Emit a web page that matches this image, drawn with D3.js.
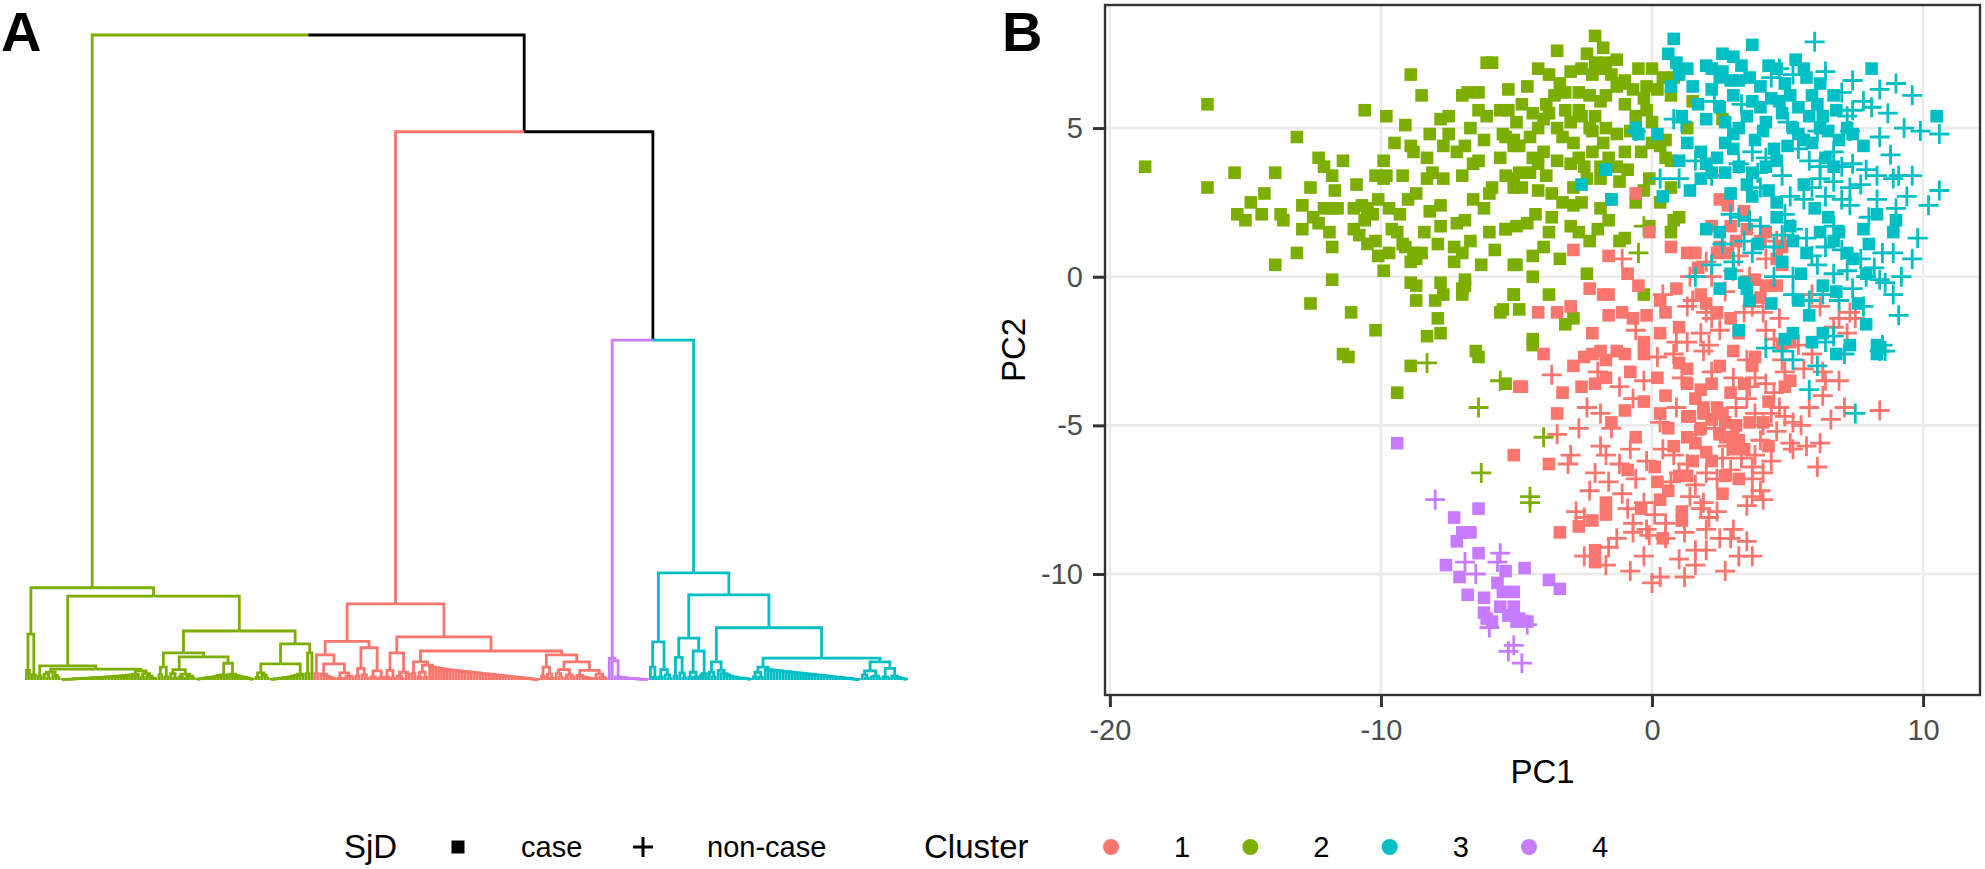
<!DOCTYPE html>
<html>
<head>
<meta charset="utf-8">
<script src="https://cdn.jsdelivr.net/npm/d3@7"></script>
<style>
  body { margin: 0; background: #fff; }
  text { font-family: "Liberation Sans", Arial, sans-serif; }
</style>
</head>
<body>
<script>
// ---- panel A : dendrogram, one bracket string per cluster, leaf order left to right ----
// "(a,b)h" = merge at height h, empty = leaf, "[h1 h2 ..]" = right-nested chain, "<h1 h2 ..>" = left-nested chain
var clusterOrder = [2, 1, 4, 3];
var clusterTrees = [
  "(((,)1.5,(,)0.8)7.1,(((,)0.6,(((,(,)0.3)0.9,(,(,)0.4)0.7)1.2,(<0.05 0.1 0.1 0.15 0.15 0.2 0.2 0.25 0.25 0.3 0.3 0.35 0.35 0.4 0.4 0.45 0.5 0.5 0.55 0.6 0.6 0.65 0.7 0.75 0.8 0.9>,((,)0.4,(,(,(,)0.2)0.3)0.6)1.0)1.4)1.7)2.2," +
  "((((,)0.8,(,)0.5)2.0,(((,(,)0.3)1.0,((,)0.5,((,)0.3,(,)0.2)0.6)0.9)1.6,(<0.1 0.2 0.2 0.3 0.4 0.4 0.5 0.6 0.7 0.8>,[0.9 0.7 0.6 0.5 0.4 0.3 0.2 0.1])2.6)3.6)4.2," +
  "((((,)0.4,(,(,)0.3)0.7)1.1,<0.1 0.1 0.2 0.2 0.3 0.35 0.4 0.5 0.6 0.7 0.9>)2.5,((,)1.0,)4.2)5.6)7.6)13.0)14.3",
  "((((,)1.0,([0.9 0.6 0.4 0.3 0.2],((,)0.3,((,)0.2,(,)0.4)0.6)1.1)2.5)3.9,(((,)0.6,(,(,)0.3)0.8)1.8,((,(,)0.2)0.5,(,)0.4)1.4)5.0)6.0," +
  "((((,)0.5,(,)0.3)1.5,((,(,)0.2)0.6,(,)0.9)1.2)4.2,(((,)1.0,(((,)0.5,(,)0.4)1.2,[2.0 1.9 1.8 1.75 1.7 1.6 1.55 1.5 1.45 1.4 1.35 1.3 1.25 1.2 1.15 1.1 1.05 1.0 0.95 0.9 0.85 0.8 0.75 0.7 0.65 0.6 0.55 0.5 0.45 0.4 0.35 0.3 0.25 0.2 0.15 0.1 0.08])2.3)2.8," +
  "(((,)0.6,(,(,)0.3)0.9)2.0,(((,(,)0.4)1.0,((,)0.3,(,)0.5)0.8)1.6,([0.7 0.5 0.4 0.3 0.2],((,)0.3,(,(,)0.2)0.4)0.9)1.5)2.8)3.9)4.5)6.7)11.8",
  "[3.4 3.0 0.5 0.4 0.35 0.3 0.25 0.2 0.2 0.15 0.1 0.1 0.05]",
  "(((,(,)0.4)2.0,((,)0.5,(,(,)0.2)0.8)1.6)5.9,((((,)0.6,(,(,)0.3)1.1)3.5,(((,)0.4,(,)0.5)1.2,((,)0.7,)1.0)4.5)6.5," +
  "(((,(,)0.5)1.2,[1.5 1.0 0.8 0.6 0.5 0.4 0.3 0.3 0.2 0.2 0.1])2.8,((((,)0.5,(,)0.4)1.2,[1.6 1.55 1.5 1.45 1.4 1.35 1.3 1.25 1.2 1.15 1.1 1.05 1.0 0.95 0.9 0.85 0.8 0.75 0.7 0.65 0.6 0.55 0.5 0.45 0.4 0.35 0.3 0.25 0.2 0.15 0.1 0.05])2.0," +
  "(((,(,)0.3)0.8,((,)0.4,(,)0.2)0.6)1.4,((,(,)0.3)0.5,[0.6 0.4 0.3 0.2 0.1])1.8)2.8)3.4)8.1)13.2)16.6"
];
// heights of the three merges above the clusters: root, cluster1 + (4,3), 4 + 3
var mergeHeights = [100, 85.0, 52.7];

// ---- panel B : PCA scores, [PC1, PC2] per sample ----
var c1case = [[-4.9,-3.7],[-5.1,-6.0],[-4.0,-2.6],[-4.8,-3.7],[-3.5,-4.6],[-3.8,-6.3],[-2.5,-2.7],[-2.2,-2.6],[-1.7,-2.8],[-1.0,-2.6],[-0.3,-2.6],[-2.6,-3.7],[-2.1,-3.6],[-1.7,-3.4],[-1.5,-4.9],[-1.7,-7.6],[-1.7,-8.0],[-2.2,-8.2],[-2.7,-8.4],[-3.4,-8.6],[-2.1,-9.2],[-2.1,-9.6],[-0.3,-4.2],[0.5,-4.0],[1.0,-2.9],[1.3,-3.6],[1.6,-4.1],[0.1,-6.4],[0.2,-6.9],[0.3,-7.5],[0.8,-5.7],[1.3,-5.4],[1.4,-4.7],[1.8,-5.1],[1.9,-4.4],[1.0,-6.7],[1.3,-6.7],[1.1,-7.9],[1.1,-8.2],[0.4,-8.8],[2.4,-4.4],[2.6,-4.6],[2.7,-4.9],[3.1,-5.0],[3.2,-5.5],[3.4,-5.8],[3.0,-5.4],[2.7,-6.7],[3.2,-6.8],[1.8,-3.8],[2.2,-3.6],[2.5,-3.0],[3.4,-3.6],[3.7,-3.0],[3.8,-2.7],[4.8,-2.3],[5.1,-2.2],[4.1,-4.9],[4.3,-5.7],[4.9,-3.7],[5.1,-3.5],[-0.6,2.8],[2.5,2.6],[2.2,1.7],[2.9,1.7],[2.5,1.0],[3.1,1.2],[2.4,0.8],[-2.9,0.9],[-1.6,0.7],[-0.1,1.5],[0.7,1.0],[1.3,0.8],[1.6,0.8],[-1.8,-0.6],[-1.6,-0.6],[-4.2,-1.2],[-3.5,-1.2],[-3.0,-1.0],[-2.2,-1.9],[-1.6,-1.3],[-1.1,-1.2],[-0.7,-1.4],[-0.2,-1.3],[0.3,-0.8],[0.5,-1.2],[1.0,-1.7],[0.3,-1.9],[-0.3,-2.2],[-1.9,-2.5],[-1.3,-2.5],[1.8,-0.6],[2.0,-0.9],[2.4,-1.2],[2.9,-1.4],[3.2,-1.9],[3.0,-2.5],[3.8,-0.1],[4.2,-0.3],[4.6,-0.3],[4.8,0.4],[4.0,-0.7],[4.0,1.2],[4.2,1.5],[4.8,1.0],[4.6,0.6],
  [1.3,-4.7],[1.9,-4.6],[2.2,-4.8],[2.5,-5.3],[3.0,-5.8],[2.7,-5.4],[1.6,-5.6],[2.0,-5.9],[0.6,-5.1],[0.3,-4.6],[-0.6,-5.4],[-1.0,-4.5],[2.2,-6.2],[1.5,-6.2],[-0.9,-6.5],[-0.4,-7.8],[0.6,-7.2],[2.6,-7.3],[1.3,-3.1],[0.2,-3.4],[-0.8,-3.2],[-2.9,-3.0],[-3.3,-3.9],[2.9,-3.9],[4.3,-4.2],[3.6,-4.9],[0.9,-0.4],[1.7,0.3],[2.8,0.8],[3.5,1.6],[3.4,2.2],[2.8,2.4],[-0.9,0.1],[-2.3,-0.4],[-0.5,-0.3]];
var c1non = [[-3.7,-3.3],[-2.4,-4.4],[-2.7,-5.1],[-3.5,-5.3],[-3.0,-6.0],[-3.1,-6.3],[-1.9,-5.7],[-1.7,-6.0],[-1.2,-6.3],[-2.1,-6.6],[-1.6,-6.9],[-1.1,-7.3],[-0.6,-6.8],[-0.3,-7.6],[-2.8,-7.9],[-2.5,-8.1],[-0.7,-8.3],[-0.7,-8.6],[-0.1,-8.7],[-0.2,-8.5],[-1.3,-8.8],[-1.6,-9.1],[-2.5,-9.4],[-1.7,-9.7],[-0.3,-9.4],[0.5,-8.3],[0.5,-8.8],[1.0,-9.5],[0.3,-10.1],[0.0,-10.3],[1.6,-9.2],[1.6,-9.7],[2.0,-9.2],[1.8,-7.8],[2.1,-8.1],[2.4,-7.9],[1.9,-7.6],[1.4,-7.4],[1.6,-7.0],[1.0,-6.6],[0.8,-6.0],[0.4,-5.8],[2.0,-6.6],[2.4,-6.8],[2.9,-6.5],[2.5,-8.8],[2.9,-8.8],[3.5,-8.9],[3.7,-9.4],[3.0,-8.5],[3.5,-7.7],[3.7,-7.4],[4.1,-7.5],[4.0,-7.2],[3.7,-6.8],[4.1,-6.6],[3.7,-6.4],[3.8,-6.0],[4.0,-5.5],[4.1,-5.0],[3.8,-4.6],[3.5,-4.1],[3.6,-3.7],[3.8,-3.4],[4.2,-3.6],[4.5,-3.9],[4.7,-4.4],[4.9,-4.7],[5.2,-4.9],[5.1,-5.6],[5.2,-5.8],[5.7,-5.7],[6.2,-5.6],[6.1,-6.4],[6.3,-3.2],[6.4,-3.5],[6.9,-3.5],[6.3,-4.0],[8.4,-4.5],[4.8,-2.8],[5.4,-2.3],[2.1,-2.3],[3.0,-3.4],[3.5,-2.8],[0.2,-2.7],[0.8,-2.6],[-1.2,-3.7],[-0.3,-3.5],[-0.7,-4.1],[-1.1,0.6],[1.4,0.0],[2.0,0.5],[2.2,0.0],[3.2,0.7],[3.6,0.0],[3.0,0.2],[4.2,0.6],[4.6,1.2],[4.9,1.2],[0.4,-0.6],[1.3,-1.0],[1.5,-0.8],[2.0,-1.2],[2.2,-1.4],[2.5,-1.8],[1.8,-1.9],[1.3,-2.2],[1.9,-2.5],[3.7,-1.0],[4.1,-1.2],[4.2,-1.8],[4.5,-2.1],[4.7,-1.4],[5.9,-0.6],[6.2,-1.0],[6.7,-1.7],[6.9,-1.4],[7.3,-1.2],[7.2,-1.9],[7.5,-1.4],
  [0.9,-4.4],[1.6,-5.3],[2.3,-5.1],[2.8,-5.7],[3.3,-6.1],[2.6,-6.1],[1.3,-6.3],[0.7,-6.9],[-0.2,-6.2],[-0.8,-5.8],[-1.5,-5.1],[-2.3,-7.2],[-0.9,-7.8],[0.1,-8.0],[1.2,-8.6],[2.0,-8.5],[3.2,-9.4],[2.7,-9.9],[1.2,-10.1],[-0.8,-9.9],[4.4,-6.2],[4.6,-5.2],[5.5,-5.0],[5.8,-4.4],[4.4,-4.6],[3.1,-4.4],[2.2,-3.2],[1.1,-3.4],[0.3,-4.9],[-1.9,-4.6],[5.6,-3.1],[5.9,-2.6],[4.9,-3.2],[6.6,-4.8],[7.1,-4.4],[3.4,-1.2],[2.7,-0.5],[0.9,-2.2],[-0.6,-1.8],[-2.0,-3.2]];
var c2case = [[-18.7,3.7],[-16.4,5.8],[-16.4,3.0],[-15.4,3.5],[-15.3,2.1],[-15.0,1.9],[-14.4,2.1],[-14.3,2.8],[-13.9,3.5],[-13.9,0.4],[-13.7,2.1],[-13.6,1.9],[-13.1,4.7],[-13.1,0.8],[-12.9,2.4],[-12.9,1.6],[-12.6,-0.9],[-12.3,4.0],[-12.1,3.7],[-11.8,3.4],[-11.7,2.9],[-12.5,2.0],[-12.3,1.8],[-12.1,2.3],[-11.8,2.3],[-11.6,2.3],[-11.9,1.5],[-11.8,1.0],[-11.8,-0.1],[-11.1,-1.2],[-10.6,5.6],[-11.0,2.3],[-10.7,2.4],[-10.5,2.3],[-10.6,1.9],[-10.3,2.1],[-10.1,2.6],[-11.0,1.6],[-10.8,1.4],[-10.5,1.1],[-10.2,1.2],[-10.1,0.7],[-9.9,0.2],[-10.2,-1.8],[-9.8,5.4],[-8.9,6.8],[-8.5,6.1],[-9.1,5.1],[-9.9,3.9],[-9.8,3.4],[-9.9,3.3],[-10.2,3.4],[-9.7,2.3],[-9.3,2.1],[-9.6,1.6],[-9.4,1.5],[-9.2,1.1],[-9.1,1.0],[-8.8,0.8],[-8.5,0.8],[-9.2,3.4],[-8.9,4.4],[-8.8,4.2],[-8.3,3.3],[-8.3,4.0],[-8.1,3.5],[-8.7,2.8],[-8.9,0.5],[-8.7,0.6],[-8.9,-0.2],[-8.7,-0.3],[-8.7,-0.8],[-8.3,-2.0],[-7.8,-1.9],[-7.9,-1.4],[-7.8,-0.2],[-7.7,-0.6],[-8.0,-0.8],[-8.2,2.2],[-7.8,2.4],[-7.8,1.7],[-7.9,1.1],[-7.7,3.3],[-7.7,4.4],[-7.8,5.3],[-7.5,5.4],[-7.3,1.0],[-7.0,0.8],[-7.3,0.5],[-7.0,-0.4],[-6.9,-0.1],[-6.7,1.2],[-6.9,1.9],[-7.2,1.8],[-7.2,4.2],[-6.9,4.4],[-7.0,6.1],[-6.8,6.2],[-6.4,6.2],[-6.4,5.6],[-6.1,5.4],[-7.0,3.4],[-6.6,3.8],[-6.4,3.9],[-6.2,2.3],[-6.0,2.8],[-5.9,3.0],[-6.1,7.2],[-5.9,7.2],[-5.3,6.3],[-5.3,5.6],[-5.6,5.6],[-5.4,4.7],[-5.1,4.4],[-5.6,4.0],[-6.3,0.4],[-6.9,-0.3],[-7.0,-0.6],[-5.6,-1.2],[-5.1,-0.6],[-5.1,0.4],[-5.4,1.6],[-5.1,3.3],[-11.4,-2.6],[-11.2,-2.7],[-6.5,-2.5],[-6.4,-2.7],[-8.9,-3.0],[-9.4,-3.9],[-5.4,-3.6],[-4.4,-2.3],[-2.1,8.1],[-3.5,7.6],[-1.8,7.7],[-2.4,7.5],[-2.1,7.2],[-1.7,7.2],[-1.3,7.3],[-2.2,6.8],[-1.8,7.0],[-4.2,7.0],[-3.8,6.8],[-3.4,6.5],[-3.2,6.2],[-2.7,6.2],[-2.3,6.1],[-1.9,5.9],[-1.7,6.1],[-1.3,6.4],[-1.1,6.5],[-0.7,6.3],[-0.5,7.0],[0.0,7.0],[0.4,6.7],[-0.2,6.4],[-1.0,6.6],[0.8,6.7],[0.7,6.1],[1.5,5.9],[-4.8,5.8],[-4.4,5.5],[-3.9,5.8],[-3.8,5.5],[-3.2,5.6],[-2.7,5.6],[-2.6,5.4],[-2.1,5.4],[-1.7,5.0],[-2.2,4.9],[-1.8,4.5],[-5.5,4.8],[-5.1,4.6],[-4.9,4.4],[-4.5,4.7],[-4.2,5.0],[-3.5,5.0],[-3.3,4.7],[-2.9,4.5],[-4.4,4.0],[-4.0,4.2],[-3.5,3.9],[-2.7,4.0],[-2.2,4.2],[-1.6,4.0],[-1.3,3.7],[-1.9,3.7],[-1.3,4.8],[-0.8,4.9],[-0.6,5.4],[-0.2,5.6],[0.0,5.2],[0.0,4.5],[0.3,4.4],[0.5,4.6],[0.5,4.0],[0.7,3.9],[1.3,5.0],[2.6,5.3],[-5.4,3.4],[-4.9,3.5],[-4.5,3.5],[-5.1,3.0],[-4.8,3.0],[-4.2,2.9],[-3.7,2.8],[-2.9,3.0],[-2.4,3.3],[-1.9,3.3],[-1.2,3.2],[-1.5,2.6],[-0.6,2.5],[-0.1,3.3],[0.3,2.5],[0.7,3.0],[-2.9,2.4],[-2.6,2.5],[-1.9,2.3],[-4.3,2.1],[-3.7,2.0],[-5.4,1.6],[-5.0,1.7],[-4.6,1.8],[-3.0,1.7],[-2.7,1.5],[-2.3,1.2],[-1.2,1.2],[-1.0,1.3],[-0.1,1.7],[0.7,1.5],[0.8,1.9],[1.0,2.0],[-4.4,0.7],[-5.0,0.4],[-3.4,0.6],[-4.4,0.0],[-5.1,-0.6],[-3.8,-0.6],[-4.9,-1.1],[-4.4,-2.1],[-5.5,-1.1],[-2.4,0.1],[-2.9,-1.4],[-3.2,-1.6],[-0.3,-0.6],
  [-3.0,6.9],[-2.6,7.0],[-1.5,6.8],[-0.3,6.0],[0.2,6.3],[-3.6,6.1],[-4.6,6.4],[-5.0,5.2],[-4.0,5.3],[-3.0,5.2],[-2.3,5.0],[-1.0,5.8],[-0.4,4.2],[-1.0,4.2],[-2.5,3.7],[-3.0,3.8],[-3.9,3.4],[-4.2,3.8],[-0.9,3.6],[-0.3,2.9],[-3.3,2.5],[-3.8,1.5],[-4.0,1.0],[-2.0,1.6],[-1.6,1.9],[-6.2,4.6],[-6.7,5.0],[-7.5,4.8],[-8.2,4.8],[-9.5,4.5],[-10.9,3.1],[-11.4,3.9],[-12.6,3.0],[-14.8,2.5],[-9.0,2.6],[-6.6,2.6],[-6.0,1.5],[-5.8,0.9],[-8.4,1.5],[-9.7,0.8]];
var c2non = [[-8.3,-2.9],[-5.6,-3.5],[-6.4,-4.4],[-6.3,-6.6],[-4.0,-5.4],[-4.5,-7.4],[-4.5,-7.6],[-0.3,1.7],[-0.5,0.8]];
var c3case = [[0.8,8.0],[0.6,7.5],[3.7,7.8],[2.6,7.5],[3.0,7.4],[0.9,7.2],[1.3,7.0],[1.0,6.8],[2.0,7.1],[2.2,7.0],[2.5,6.7],[2.9,6.6],[3.2,6.6],[3.6,6.7],[4.3,7.1],[4.6,7.0],[5.6,7.0],[5.7,6.7],[8.1,7.0],[0.7,6.4],[2.2,6.3],[3.0,6.1],[3.7,5.9],[4.0,5.7],[4.7,5.9],[5.1,6.1],[5.4,5.7],[6.1,5.8],[6.7,6.1],[6.8,5.6],[10.5,5.4],[1.1,5.4],[2.0,5.3],[2.7,5.2],[3.0,4.8],[3.2,5.0],[4.2,5.2],[4.8,5.5],[5.2,5.0],[5.4,4.8],[5.8,5.4],[6.2,5.0],[6.5,4.9],[7.2,5.0],[7.4,4.8],[-0.6,5.0],[-0.5,4.8],[0.2,4.8],[1.8,4.2],[2.0,3.8],[2.4,4.0],[2.7,4.5],[3.0,4.3],[2.2,3.5],[1.8,3.3],[2.7,3.5],[3.2,3.7],[3.7,3.5],[4.5,4.3],[4.6,3.9],[4.2,3.7],[5.9,4.5],[6.4,4.0],[6.7,3.7],[-1.7,3.6],[-2.6,3.1],[-1.5,2.6],[0.4,2.7],[2.0,1.6],[2.5,1.5],[3.7,2.7],[4.6,2.5],[4.6,2.0],[5.1,1.7],[5.2,1.2],[5.7,0.8],[6.2,1.5],[6.7,1.2],[6.9,1.5],[7.2,0.8],[7.4,0.6],[7.9,0.1],[8.3,2.1],[9.0,1.9],[8.9,1.5],[2.9,0.1],[3.4,-0.2],[5.4,-0.8],[5.8,-1.3],[5.9,-2.2],[6.3,-1.9],[8.3,-2.3],[3.2,-1.8],[3.5,-0.4],[3.6,-0.8],[8.3,-2.6],[5.2,-1.9],[4.9,-2.1],
  [1.5,6.4],[2.6,6.9],[3.3,7.1],[4.0,6.4],[4.9,6.5],[5.3,7.3],[6.2,6.5],[1.7,5.8],[2.5,5.7],[3.5,5.4],[4.4,6.0],[5.9,6.1],[6.3,5.4],[3.8,4.6],[4.1,4.9],[5.0,4.4],[5.6,4.6],[6.9,4.6],[7.8,4.4],[1.3,4.5],[1.0,3.9],[1.4,2.9],[2.9,2.8],[3.5,3.1],[4.3,2.9],[5.6,3.1],[6.0,2.3],[6.5,2.0],[7.8,1.6],[8.0,1.1],[3.9,1.1],[4.8,0.5],[5.5,0.1],[6.3,-0.3],[6.8,-0.5],[7.6,-0.9],[7.9,-1.6],[4.4,-0.9],[2.5,-0.4],[6.8,-2.6],[7.3,-2.3]];
var c3non = [[6.0,7.9],[7.4,6.6],[8.4,6.3],[9.0,6.5],[9.6,6.1],[7.8,5.9],[8.1,5.7],[7.4,5.6],[4.7,7.0],[5.2,6.8],[9.9,4.9],[10.6,4.8],[0.8,5.3],[1.1,5.2],[-0.6,4.9],[7.2,5.4],[7.3,4.9],[8.8,4.1],[8.9,3.3],[9.1,3.4],[9.6,3.4],[10.6,2.9],[10.2,2.4],[0.3,3.3],[1.0,3.3],[1.6,3.9],[3.2,3.8],[3.7,4.2],[4.2,4.0],[5.4,4.3],[5.8,3.9],[6.2,3.7],[6.7,4.2],[7.0,3.7],[7.4,3.8],[7.9,3.6],[6.2,3.3],[6.7,3.2],[7.3,3.0],[7.0,2.6],[8.3,2.6],[7.3,2.4],[4.0,3.0],[5.1,2.7],[5.6,2.6],[2.9,2.1],[3.2,2.0],[3.6,1.9],[4.0,1.7],[4.9,2.1],[5.2,1.6],[4.5,1.0],[3.7,0.8],[3.0,0.5],[2.2,0.4],[1.6,0.0],[4.5,0.0],[5.2,0.0],[6.1,0.4],[6.7,0.1],[7.2,0.2],[7.7,0.6],[7.9,0.0],[8.5,0.8],[8.9,0.8],[8.4,-0.1],[8.6,-0.2],[9.2,0.0],[5.2,-0.6],[5.8,-0.8],[6.9,-0.8],[7.4,-0.4],[9.1,-1.3],[8.5,-2.3],[6.7,-2.0],[2.2,3.4],[4.2,-2.4],[5.2,-2.8],[5.8,-3.8],[7.5,-4.6],[8.4,-2.5],[8.6,-2.5],[6.4,-2.2],
  [2.3,5.9],[3.3,5.8],[4.4,6.7],[6.4,6.9],[7.0,6.2],[8.7,5.5],[9.3,5.0],[8.4,4.7],[6.1,4.9],[5.0,5.2],[3.9,3.5],[4.8,3.4],[5.9,3.0],[6.4,2.7],[7.7,3.1],[8.3,3.4],[9.4,2.7],[9.0,2.3],[8.0,2.0],[6.7,1.7],[5.7,1.3],[4.8,1.4],[3.4,1.2],[2.6,1.1],[5.9,0.7],[6.4,1.0],[7.0,0.9],[8.2,0.3],[9.6,0.6],[9.8,1.3],[6.3,-0.6],[7.8,-1.0],[8.9,-0.6],[7.1,-2.6],[6.1,-3.0],[4.8,-2.5]];
var c4case = [[-9.4,-5.6],[-6.4,-7.8],[-7.3,-8.1],[-7.0,-8.6],[-6.7,-8.6],[-7.2,-8.9],[-6.4,-9.3],[-7.6,-9.7],[-7.1,-10.1],[-6.8,-10.7],[-6.2,-10.8],[-6.2,-11.3],[-6.1,-11.5],[-5.9,-11.6],[-5.6,-11.1],[-5.5,-10.6],[-5.7,-10.3],[-5.4,-9.9],[-5.1,-10.6],[-5.1,-11.1],[-5.0,-11.6],[-5.3,-11.4],[-4.9,-11.5],[-4.6,-11.6],[-4.7,-9.8],[-3.8,-10.2],[-3.4,-10.5]];
var c4non = [[-8.0,-7.5],[-6.9,-9.6],[-6.5,-10.0],[-5.6,-9.3],[-5.7,-9.6],[-6.0,-11.8],[-5.3,-12.6],[-5.1,-12.4],[-4.8,-13.0],[-4.6,-11.7]];

var xTicks = [-20, -10, 0, 10];
var yTicks = [-10, -5, 0, 5];
var clusterNames = ["1", "2", "3", "4"];
var sjdNames = ["case", "non-case"];

var color = d3.scaleOrdinal().domain(clusterNames)
    .range(["#F8766D", "#7CAE00", "#00BFC4", "#C77CFF"]);

var w = 1985, h = 869;
var svg = d3.select("body").append("svg").attr("width", w).attr("height", h);

// ---------- dendrogram ----------
function parseTree(str, cluster) {
    var s = str, pos = 0;
    function readNum() {
        var m = /^\s*([0-9.]+)/.exec(s.slice(pos));
        pos += m[0].length;
        return +m[1];
    }
    function leaf() { return {h: 0, cluster: cluster}; }
    function readList(close) {
        pos++;
        var hs = [];
        while (true) {
            while (s[pos] === " ") pos++;
            if (s[pos] === close) { pos++; break; }
            hs.push(readNum());
        }
        return hs;
    }
    function node() {
        var c = s[pos], hs, n, i;
        if (c === "(") {
            pos++;
            var kids = [node()];
            while (s[pos] === ",") { pos++; kids.push(node()); }
            pos++;
            return {h: readNum(), cluster: cluster, children: kids};
        }
        if (c === "[") {
            hs = readList("]");
            n = {h: hs[hs.length - 1], cluster: cluster, children: [leaf(), leaf()]};
            for (i = hs.length - 2; i >= 0; i--) n = {h: hs[i], cluster: cluster, children: [leaf(), n]};
            return n;
        }
        if (c === "<") {
            hs = readList(">");
            n = {h: hs[0], cluster: cluster, children: [leaf(), leaf()]};
            for (i = 1; i < hs.length; i++) n = {h: hs[i], cluster: cluster, children: [n, leaf()]};
            return n;
        }
        return leaf();
    }
    return node();
}

var subtrees = clusterOrder.map(function (k, i) { return parseTree(clusterTrees[i], String(k)); });
var treeData = {h: mergeHeights[0], children: [subtrees[0],
    {h: mergeHeights[1], children: [subtrees[1],
        {h: mergeHeights[2], children: [subtrees[2], subtrees[3]]}]}]};

var root = d3.hierarchy(treeData);
var nLeaves = root.leaves().length;
d3.cluster().size([nLeaves - 1, 1]).separation(function () { return 1; })(root);

var dx = d3.scaleLinear().domain([0, nLeaves - 1]).range([25, 908]);
var dy = d3.scaleLinear().domain([0, 100]).range([680, 35]);

var links = root.links().sort(function (a, b) {
    return (a.target.data.cluster ? 1 : 0) - (b.target.data.cluster ? 1 : 0);
});

svg.append("g")
    .selectAll("path")
    .data(links)
    .enter().append("path")
    .attr("d", function (l) {
        return "M" + dx(l.source.x) + "," + dy(l.source.data.h) +
            "H" + dx(l.target.x) + "V" + dy(l.target.data.h);
    })
    .attr("fill", "none")
    .attr("stroke", function (l) { return l.target.data.cluster ? color(l.target.data.cluster) : "#000"; })
    .attr("stroke-width", 2.8);

// ---------- PCA scatter ----------
var pLeft = 1105, pRight = 1980, pTop = 5, pBottom = 695;
var x = d3.scaleLinear().domain([-20.18, 12.1]).range([pLeft, pRight]);
var y = d3.scaleLinear().domain([-14.07, 9.14]).range([pBottom, pTop]);

var grid = svg.append("g");
grid.selectAll(".gx").data(xTicks).enter().append("line")
    .attr("x1", function (d) { return x(d); }).attr("x2", function (d) { return x(d); })
    .attr("y1", pTop).attr("y2", pBottom)
    .attr("stroke", "#EBEBEB").attr("stroke-width", 2.6);
grid.selectAll(".gy").data(yTicks).enter().append("line")
    .attr("y1", function (d) { return y(d); }).attr("y2", function (d) { return y(d); })
    .attr("x1", pLeft).attr("x2", pRight)
    .attr("stroke", "#EBEBEB").attr("stroke-width", 2.6);

var groups = [
    {pts: c2case, cl: "2", sjd: "case"}, {pts: c2non, cl: "2", sjd: "non-case"},
    {pts: c1case, cl: "1", sjd: "case"}, {pts: c1non, cl: "1", sjd: "non-case"},
    {pts: c3case, cl: "3", sjd: "case"}, {pts: c3non, cl: "3", sjd: "non-case"},
    {pts: c4case, cl: "4", sjd: "case"}, {pts: c4non, cl: "4", sjd: "non-case"}
];
var points = [];
groups.forEach(function (g) {
    g.pts.forEach(function (p) { points.push({pc1: p[0], pc2: p[1], cl: g.cl, sjd: g.sjd}); });
});

var plusPath = "M-10,0H10M0,-10V10";
svg.append("g")
    .selectAll(".pt")
    .data(points)
    .enter().append("path")
    .attr("transform", function (d) { return "translate(" + x(d.pc1) + "," + y(d.pc2) + ")"; })
    .attr("d", function (d) { return d.sjd === "case" ? "M-6.3,-6.3H6.3V6.3H-6.3Z" : plusPath; })
    .attr("fill", function (d) { return d.sjd === "case" ? color(d.cl) : "none"; })
    .attr("stroke", function (d) { return d.sjd === "case" ? "none" : color(d.cl); })
    .attr("stroke-width", 2.8);

svg.append("rect")
    .attr("x", pLeft).attr("y", pTop)
    .attr("width", pRight - pLeft).attr("height", pBottom - pTop)
    .attr("fill", "none").attr("stroke", "#333333").attr("stroke-width", 2.4);

var fmt = function (d) { return String(d); };
var xAxis = d3.axisBottom(x).tickValues(xTicks).tickFormat(fmt).tickSize(12).tickPadding(12);
var gx = svg.append("g").attr("transform", "translate(0," + pBottom + ")").call(xAxis);
var yAxis = d3.axisLeft(y).tickValues(yTicks).tickFormat(fmt).tickSize(12).tickPadding(10);
var gy = svg.append("g").attr("transform", "translate(" + pLeft + ",0)").call(yAxis);
[gx, gy].forEach(function (g) {
    g.select(".domain").remove();
    g.selectAll(".tick line").attr("stroke", "#333333").attr("stroke-width", 3);
    g.selectAll(".tick text")
        .attr("fill", "#4D4D4D")
        .style("font-size", "29px")
        .style("font-family", "'Liberation Sans', Arial, sans-serif");
});

svg.append("text")
    .attr("x", (pLeft + pRight) / 2).attr("y", 783)
    .attr("text-anchor", "middle")
    .style("font-size", "33px")
    .text("PC1");
svg.append("text")
    .attr("transform", "translate(1025," + (pTop + pBottom) / 2 + ") rotate(-90)")
    .attr("text-anchor", "middle")
    .style("font-size", "33px")
    .text("PC2");

// panel tags
svg.append("text").attr("x", 1).attr("y", 51)
    .style("font-size", "56px").style("font-weight", "bold").text("A");
svg.append("text").attr("x", 1002).attr("y", 51)
    .style("font-size", "56px").style("font-weight", "bold").text("B");

// ---------- legend ----------
var legY = 847;
var leg = svg.append("g");
leg.append("text").attr("x", 344).attr("y", legY + 11).style("font-size", "33px").text("SjD");

var sjdKeyX = [458, 643], sjdLabelX = [521, 707];
sjdNames.forEach(function (s, i) {
    leg.append("path")
        .attr("transform", "translate(" + sjdKeyX[i] + "," + legY + ")")
        .attr("d", s === "case" ? "M-6.5,-6.5H6.5V6.5H-6.5Z" : plusPath)
        .attr("fill", s === "case" ? "#000" : "none")
        .attr("stroke", s === "case" ? "none" : "#000")
        .attr("stroke-width", 3);
    leg.append("text").attr("x", sjdLabelX[i]).attr("y", legY + 10)
        .style("font-size", "29px").text(s);
});

leg.append("text").attr("x", 924).attr("y", legY + 11).style("font-size", "33px").text("Cluster");
var clScale = d3.scalePoint().domain(clusterNames).range([1111, 1529]);
clusterNames.forEach(function (c) {
    leg.append("circle").attr("cx", clScale(c)).attr("cy", legY).attr("r", 8).attr("fill", color(c));
    leg.append("text").attr("x", clScale(c) + 63).attr("y", legY + 10)
        .style("font-size", "29px").text(c);
});
</script>
</body>
</html>
